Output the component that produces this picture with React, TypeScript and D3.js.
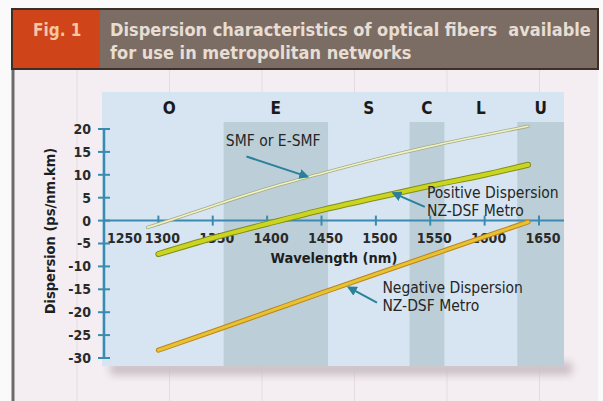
import * as d3 from "d3";

// Bands (nm)
const bandNames = ["O", "E", "S", "C", "L", "U"];
const bandFrom = [1260, 1360, 1456, 1531, 1563, 1630];
const bandTo = [1360, 1456, 1531, 1563, 1630, 1673];
const bandDark = [false, true, false, true, false, true];

const xTickValues = [1250, 1300, 1350, 1400, 1450, 1500, 1550, 1600, 1650];
const yTickValues = [20, 15, 10, 5, 0, -5, -10, -15, -20, -25, -30];

// Series: wavelength (nm) -> dispersion (ps/nm.km)
const smfWl = [1290, 1310, 1350, 1400, 1450, 1500, 1550, 1600, 1640];
const smfD = [-1.5, 0, 3.2, 7.0, 10.3, 13.4, 16.2, 18.7, 20.6];

const posWl = [1300, 1350, 1400, 1450, 1500, 1550, 1600, 1640];
const posD = [-7.3, -3.8, -0.7, 2.3, 5.0, 7.6, 10.0, 12.2];

const negWl = [1300, 1350, 1400, 1450, 1500, 1550, 1600, 1640];
const negD = [-28.3, -24.2, -20.0, -15.8, -11.7, -7.6, -3.5, -0.3];

const FONT = "'DejaVu Sans Condensed', 'DejaVu Sans', sans-serif";
const AXIS = "#3b8bb0";
const ARROW = "#2a7f9a";

type Pt = { wl: number; d: number };
const zip = (a: number[], b: number[]): Pt[] => a.map((wl, i) => ({ wl, d: b[i] }));

// annotations: text lines anchored in data coords + arrow from/to
const notes = [
  { lines: ["SMF or E-SMF"], at: [1362, 16.3], from: [1381, 14.0], to: [1437, 9.6] },
  { lines: ["Positive Dispersion", "NZ-DSF Metro"], at: [1547, 5.0], from: [1545, 3.0], to: [1516, 6.0] },
  { lines: ["Negative Dispersion", "NZ-DSF Metro"], at: [1506, -15.8], from: [1501, -17.9], to: [1475, -14.6] },
];

export default function App() {
  const width = 603;
  const height = 401;

  const x = d3.scaleLinear().domain([1250, 1650]).range([104, 539]);
  const y = d3.scaleLinear().domain([-30, 20]).range([358, 129]);

  const panel = { x0: 102, x1: x(1673), y0: 92, y1: 366, bandTop: 122 };

  const line = d3
    .line<Pt>()
    .x((p) => x(p.wl))
    .y((p) => y(p.d))
    .curve(d3.curveMonotoneX);

  const smf = line(zip(smfWl, smfD)) || "";
  const pos = line(zip(posWl, posD)) || "";
  const neg = line(zip(negWl, negD)) || "";

  const gridX = d3.range(77, 603, 92.5);

  return (
    <svg
      width={width}
      height={height}
      style={{ position: "absolute", left: 0, top: 0 }}
      fontFamily={FONT}
    >
      <defs>
        <filter id="shadow" x="-10%" y="-50%" width="120%" height="200%">
          <feGaussianBlur stdDeviation="4" />
        </filter>
        <marker id="ah" viewBox="0 0 10 10" refX="8" refY="5" markerWidth="5" markerHeight="5" orient="auto">
          <path d="M0,0 L10,5 L0,10 z" fill={ARROW} />
        </marker>
      </defs>

      {/* page background */}
      <rect width={width} height={height} fill="#fbfafb" />
      <rect x={12} y={69} width={586} height={height - 69} fill="#f4eef2" />
      {gridX.map((gx) => (
        <line key={gx} x1={gx} x2={gx} y1={70} y2={height} stroke="#e3dbe1" strokeWidth={1} />
      ))}
      <line x1={13} x2={13} y1={68} y2={height} stroke="#6d6a6c" strokeWidth={3} />

      {/* header */}
      <rect x={12} y={9} width={586} height={60} fill="#7b6d64" stroke="#3d2f28" strokeWidth={2} />
      <rect x={13} y={10} width={87} height={58} fill="#cf4418" />
      <text x={33} y={36} fontSize={17} fontWeight="bold" fill="#f7c7a4">
        Fig. 1
      </text>
      <text x={110} y={36} fontSize={18} fontWeight="bold" fill="#e8ddd3" xmlSpace="preserve">
        {"Dispersion characteristics of optical fibers\u00a0 available"}
      </text>
      <text x={110} y={59} fontSize={18} fontWeight="bold" fill="#e8ddd3">
        for use in metropolitan networks
      </text>

      {/* panel with shadow */}
      <rect
        x={panel.x0 + 8}
        y={panel.y1 - 4}
        width={panel.x1 - panel.x0}
        height={13}
        fill="#c9bfc5"
        filter="url(#shadow)"
      />
      <rect x={panel.x0} y={panel.y0} width={panel.x1 - panel.x0} height={panel.y1 - panel.y0} fill="#d6e5f1" />
      {bandNames.map((b, i) =>
        bandDark[i] ? (
          <rect
            key={b}
            x={x(bandFrom[i])}
            y={panel.bandTop}
            width={x(bandTo[i]) - x(bandFrom[i])}
            height={panel.y1 - panel.bandTop}
            fill="#bccfd8"
          />
        ) : null
      )}
      {bandNames.map((b, i) => (
        <text
          key={b}
          x={x((bandFrom[i] + bandTo[i]) / 2)}
          y={114}
          textAnchor="middle"
          fontSize={17}
          fontWeight="bold"
          fill="#1a1a1a"
        >
          {b}
        </text>
      ))}

      {/* x axis */}
      <line x1={x(1250)} x2={panel.x1} y1={y(0)} y2={y(0)} stroke={AXIS} strokeWidth={2} />
      {xTickValues.map((v) => (
        <g key={v}>
          {v !== 1250 && (
            <line x1={x(v)} x2={x(v)} y1={y(0) - 5} y2={y(0) + 5} stroke={AXIS} strokeWidth={2} />
          )}
          <text
            x={v === 1250 ? x(v) + 3 : x(v) + 4}
            y={243}
            textAnchor={v === 1250 ? "start" : "middle"}
            fontSize={14}
            fontWeight="bold"
            fill="#2a2a2a"
          >
            {v}
          </text>
        </g>
      ))}
      <text x={334} y={263} textAnchor="middle" fontSize={14.5} fontWeight="bold" fill="#1e1e1e">
        Wavelength (nm)
      </text>

      {/* y axis */}
      <line x1={x(1250)} x2={x(1250)} y1={y(20)} y2={y(-30)} stroke={AXIS} strokeWidth={2.5} />
      {yTickValues.map((v) => (
        <g key={v}>
          <line x1={x(1250) - 6} x2={x(1250) + 6} y1={y(v)} y2={y(v)} stroke={AXIS} strokeWidth={2} />
          <text
            x={91}
            y={y(v)}
            dy="0.35em"
            textAnchor="end"
            fontSize={14}
            fontWeight="bold"
            fill="#2a2a2a"
          >
            {v}
          </text>
        </g>
      ))}
      <text
        transform={`translate(55, 231) rotate(-90)`}
        textAnchor="middle"
        fontSize={14.5}
        fontWeight="bold"
        fill="#1e1e1e"
      >
        Dispersion (ps/nm.km)
      </text>

      {/* fibre curves */}
      <path d={smf} fill="none" stroke="#a3a98a" strokeWidth={3.2} strokeLinecap="round" />
      <path d={smf} fill="none" stroke="#f1f3bf" strokeWidth={1.6} strokeLinecap="round" />
      <path d={pos} fill="none" stroke="#7f8d1a" strokeWidth={6} strokeLinecap="round" />
      <path d={pos} fill="none" stroke="#cbd520" strokeWidth={4} strokeLinecap="round" />
      <path d={neg} fill="none" stroke="#c0821a" strokeWidth={5} strokeLinecap="round" />
      <path d={neg} fill="none" stroke="#e6c332" strokeWidth={3} strokeLinecap="round" />

      {/* annotations */}
      {notes.map((n, i) => (
        <g key={i}>
          <line
            x1={x(n.from[0])}
            y1={y(n.from[1])}
            x2={x(n.to[0])}
            y2={y(n.to[1])}
            stroke={ARROW}
            strokeWidth={2}
            markerEnd="url(#ah)"
          />
          {n.lines.map((t, j) => (
            <text key={t} x={x(n.at[0])} y={y(n.at[1]) + j * 18} fontSize={15.5} fill="#262626">
              {t}
            </text>
          ))}
        </g>
      ))}
    </svg>
  );
}
